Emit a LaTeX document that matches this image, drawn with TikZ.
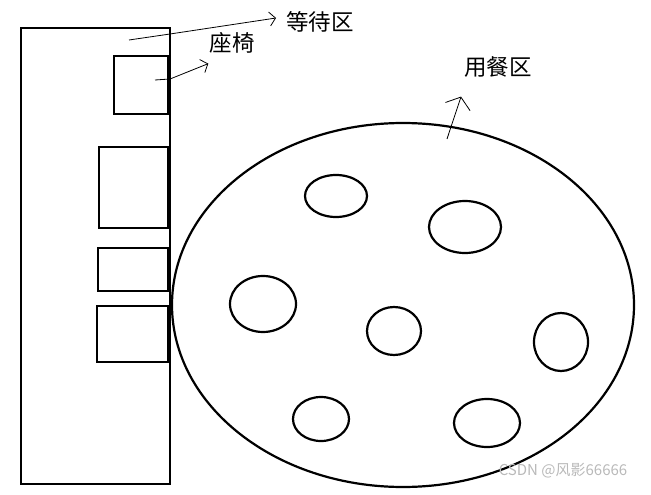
\documentclass[tikz,border=0pt]{standalone}
\usepackage{fontspec}
\setmainfont{Noto Sans CJK SC}
\usetikzlibrary{arrows.meta,positioning}
\tikzset{
  wall/.style={line width=2.8pt},
  table/.style={line width=2.2pt},
  hand/.style={line width=0.8pt, -{Straight Barb[length=6pt,width=14pt]}},
  lbl/.style={font=\fontsize{22.5}{26}\selectfont, inner sep=0pt}
}
\begin{document}
\begin{tikzpicture}[x=1pt, y=-1pt]
  \useasboundingbox (0,0) rectangle (651,495);

  % Waiting area
  \draw[wall] (21,28) rectangle (170,484);

  % Seats
  \draw[wall] (114,56) rectangle (168,114);
  \draw[wall] (99,147) rectangle (168,228);
  \draw[wall] (98,248) rectangle (168,291);
  \draw[wall] (97,306) rectangle (168,362);

  % Dining area with tables
  \draw[table] (403,305) ellipse [x radius=231, y radius=182];
  \foreach \cx/\cy/\rx/\ry in {336/196/31/21, 465/227/36/26, 263/304/33/28,
      394/331/27/24, 561/342/27/29, 321/419/28/22, 487/423/33/24}
    \draw[table] (\cx,\cy) ellipse [x radius=\rx, y radius=\ry];

  % Labels
  \node[lbl] (wait) at (320,22) {等待区};
  \node[lbl] (seat) at (232,43) {座椅};
  \node[lbl] (dine) at (498,67) {用餐区};

  % Pointers
  \coordinate (waitfrom) at (129,40);
  \coordinate (seatfrom) at (155,80);
  \coordinate (dinefrom) at (447,139);
  \draw[hand] (waitfrom) -- (170,34) -- ([xshift=-10pt,yshift=4pt]wait.west);
  \draw[hand] (seatfrom) -- (170,79) -- ([xshift=-1pt,yshift=-10pt]seat.south west);
  \draw[hand, -{Straight Barb[length=10pt,width=26pt]}] (dinefrom) -- ([xshift=-3pt,yshift=-19pt]dine.south west);

  % Watermark
  \node[font=\fontsize{15}{18}\selectfont, text=gray!55, inner sep=0pt] (mark) at (563,471) {CSDN @风影66666};
\end{tikzpicture}
\end{document}
